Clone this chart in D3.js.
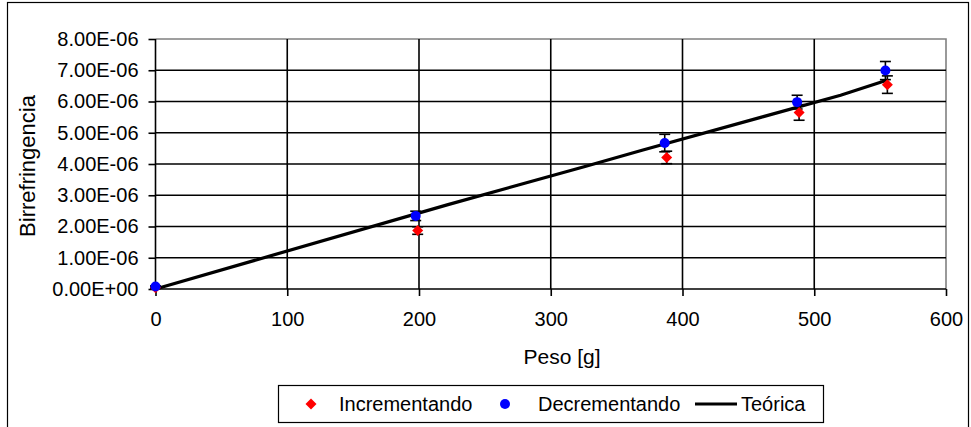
<!DOCTYPE html>
<html><head><meta charset="utf-8">
<script src="https://cdn.jsdelivr.net/npm/d3@7"></script>
<style>body{margin:0;background:#fff;}svg{display:block;font-family:"Liberation Sans",Arial,sans-serif;}</style>
</head><body>
<svg id="c" width="971" height="427"></svg>
<script>
// Data
const incWeight = [0, 199, 388, 488.5, 555.5];
const incValue  = [0.04e-6, 1.87e-6, 4.21e-6, 5.65e-6, 6.54e-6];
const incErr    = [0.02e-6, 0.12e-6, 0.20e-6, 0.25e-6, 0.28e-6];
const decWeight = [0, 197.5, 386.5, 487, 554];
const decValue  = [0.08e-6, 2.34e-6, 4.67e-6, 5.98e-6, 6.99e-6];
const decErr    = [0.02e-6, 0.15e-6, 0.28e-6, 0.22e-6, 0.29e-6];
const theoWeight = [0, 222, 326, 370, 460, 520, 555];
const theoValue  = [0, 2.70e-6, 3.92e-6, 4.45e-6, 5.50e-6, 6.20e-6, 6.68e-6];
const xTicks = [0, 100, 200, 300, 400, 500, 600];
const yTicks = [0, 1e-6, 2e-6, 3e-6, 4e-6, 5e-6, 6e-6, 7e-6, 8e-6];
const yTickLabels = ["0.00E+00","1.00E-06","2.00E-06","3.00E-06","4.00E-06","5.00E-06","6.00E-06","7.00E-06","8.00E-06"];
const legendLabels = ["Incrementando","Decrementando","Teórica"];

const svg = d3.select("#c");
const L = 155.5, R = 946, T = 39, B = 289;
const x = d3.scaleLinear().domain([0,600]).range([L,R]);
const y = d3.scaleLinear().domain([0,8e-6]).range([B,T]);
const FS = 20;

// outer border
svg.append("rect").attr("x",7.5).attr("y",2.5).attr("width",961).attr("height",440)
  .attr("fill","none").attr("stroke","#000").attr("stroke-width",1.2);

// plot area border (top/right gray)
svg.append("path").attr("d",`M${L},${T}H${R}V${B}`).attr("fill","none").attr("stroke","#808080").attr("stroke-width",1.6);

// gridlines
const g = svg.append("g");
g.selectAll(".hg").data(yTicks.slice(1,-1)).enter().append("line")
  .attr("x1",L).attr("x2",R).attr("y1",d=>y(d)).attr("y2",d=>y(d))
  .attr("stroke","#000").attr("stroke-width",1.6);
g.selectAll(".vg").data(xTicks.slice(1,-1)).enter().append("line")
  .attr("y1",T).attr("y2",B).attr("x1",d=>x(d)).attr("x2",d=>x(d))
  .attr("stroke","#000").attr("stroke-width",1.6);

// axes
const yAxis = d3.axisLeft(y).tickValues(yTicks).tickSize(7).tickPadding(10)
  .tickFormat((d,i)=>yTickLabels[i]);
const ya = svg.append("g").attr("transform",`translate(${L},0)`).call(yAxis);
const xAxis = d3.axisBottom(x).tickValues(xTicks).tickSize(7).tickPadding(16);
const xa = svg.append("g").attr("transform",`translate(0,${B})`).call(xAxis);
[ya,xa].forEach(a=>{
  a.select(".domain").attr("stroke","#000").attr("stroke-width",1.6);
  a.selectAll(".tick line").attr("stroke","#000").attr("stroke-width",1.6);
  a.selectAll("text").attr("font-size",FS).attr("fill","#000").attr("font-family","Liberation Sans, Arial, sans-serif");
});
xa.select(".domain").attr("d",`M${L},0H${R}`);
ya.select(".domain").attr("d",`M0,${T}V${B}`);

// axis titles
svg.append("text").attr("x",562).attr("y",364).attr("text-anchor","middle")
  .attr("font-size",FS+1).text("Peso [g]");
svg.append("text").attr("transform",`translate(35,${(T+B)/2+2}) rotate(-90)`).attr("text-anchor","middle")
  .attr("font-size",FS+2).text("Birrefringencia");

// theoretical line
const line = d3.line().x(d=>x(d[0])).y(d=>y(d[1]));
svg.append("path").datum(theoWeight.map((w,i)=>[w,theoValue[i]]))
  .attr("d",line).attr("fill","none").attr("stroke","#000").attr("stroke-width",3.2);

// error bars
function errBars(ws, vs, es){
  const eg = svg.append("g").attr("stroke","#000").attr("stroke-width",1.6);
  ws.forEach((w,i)=>{
    const cx = x(w), y1 = y(vs[i]+es[i]), y2 = y(vs[i]-es[i]);
    eg.append("line").attr("x1",cx).attr("x2",cx).attr("y1",y1).attr("y2",y2);
    eg.append("line").attr("x1",cx-5.5).attr("x2",cx+5.5).attr("y1",y1).attr("y2",y1);
    eg.append("line").attr("x1",cx-5.5).attr("x2",cx+5.5).attr("y1",y2).attr("y2",y2);
  });
}
errBars(incWeight, incValue, incErr);
errBars(decWeight, decValue, decErr);

// markers
const diamond = s => `M0,${-s}L${s},0L0,${s}L${-s},0Z`;
svg.append("g").selectAll("path").data(incWeight).enter().append("path")
  .attr("transform",(d,i)=>`translate(${x(d)},${y(incValue[i])})`)
  .attr("d",diamond(5.5)).attr("fill","#ff0000");
svg.append("g").selectAll("circle").data(decWeight).enter().append("circle")
  .attr("cx",d=>x(d)).attr("cy",(d,i)=>y(decValue[i])).attr("r",5).attr("fill","#0000ff");

// legend
const lg = svg.append("g");
lg.append("rect").attr("x",278.5).attr("y",385.5).attr("width",545).attr("height",37)
  .attr("fill","#fff").attr("stroke","#000").attr("stroke-width",1.2);
const ly = 404;
lg.append("path").attr("transform",`translate(311,${ly})`).attr("d",diamond(5.5)).attr("fill","#ff0000");
lg.append("text").attr("x",339).attr("y",ly+7).attr("font-size",FS).text(legendLabels[0]);
lg.append("circle").attr("cx",505).attr("cy",ly).attr("r",5).attr("fill","#0000ff");
lg.append("text").attr("x",538).attr("y",ly+7).attr("font-size",FS).text(legendLabels[1]);
lg.append("line").attr("x1",695).attr("x2",737).attr("y1",ly).attr("y2",ly).attr("stroke","#000").attr("stroke-width",3);
lg.append("text").attr("x",741).attr("y",ly+7).attr("font-size",FS).text(legendLabels[2]);
</script>
</body></html>
